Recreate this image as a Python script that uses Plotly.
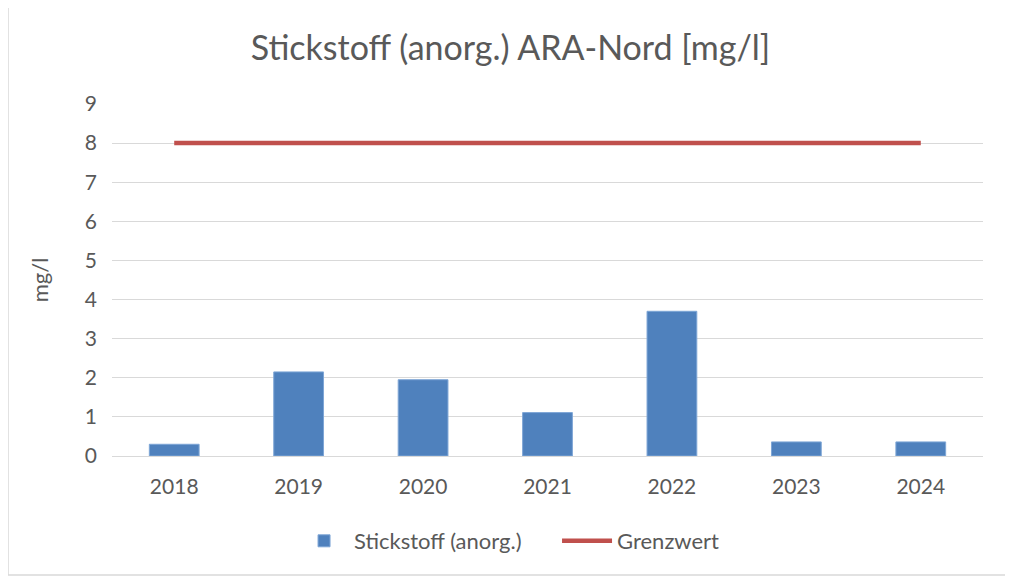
import plotly.graph_objects as go

years = ['2018', '2019', '2020', '2021', '2022', '2023', '2024']
stickstoff = [0.30, 2.15, 1.95, 1.11, 3.70, 0.36, 0.36]
grenzwert = [8, 8, 8, 8, 8, 8, 8]

font_name = 'Lato'
grey = '#595959'

fig = go.Figure()
fig.add_trace(go.Bar(x=years, y=stickstoff, name='Stickstoff (anorg.)',
                     marker=dict(color='#4F81BD', line=dict(color='#7EA6D6', width=1)),
                     width=0.4))
fig.add_trace(go.Scatter(x=years, y=grenzwert, name='Grenzwert', mode='lines',
                         line=dict(color='#C0504D', width=4.5)))

# the page body adds an 8px offset, so the figure is 8px smaller
W, H = 1005, 570
ml, mr, mt, mb = 104, 30, 96, 122
pw, ph = W - ml - mr, H - mt - mb

fig.update_layout(
    width=W, height=H,
    margin=dict(l=ml, r=mr, t=mt, b=mb),
    paper_bgcolor='white', plot_bgcolor='white',
    font=dict(family=font_name, color=grey, size=21),
    title=dict(text='Stickstoff (anorg.) ARA-Nord [mg/l]', x=0.5, xanchor='center',
               y=1 - 40 / H, yanchor='middle', font=dict(size=34, color=grey)),
    showlegend=True,
    legend=dict(orientation='h', x=0.209, xanchor='left', y=-85 / ph, yanchor='middle',
                font=dict(size=22, color=grey), traceorder='normal', itemwidth=50,
                entrywidth=198, entrywidthmode='pixels'),
    xaxis=dict(showgrid=False, showline=True, linecolor='#d9d9d9', linewidth=1,
               ticks='', ticklabelstandoff=12, tickfont=dict(size=21, color=grey)),
    yaxis=dict(range=[0, 9], dtick=1, showgrid=True, gridcolor='#d9d9d9', gridwidth=1,
               zeroline=False, showline=False, ticks='', ticklabelstandoff=14,
               tickfont=dict(size=21, color=grey),
               title=dict(text='mg/l', font=dict(size=22, color=grey), standoff=30)),
    shapes=[dict(type='rect', xref='paper', yref='paper',
                 x0=-(ml - 0) / pw, x1=1 + (mr - 6) / pw,
                 y0=-(mb - 3) / ph, y1=1 + (mt + 4) / ph,
                 line=dict(color='#d9d9d9', width=1.5))],
)

fig.write_html('out.html')
